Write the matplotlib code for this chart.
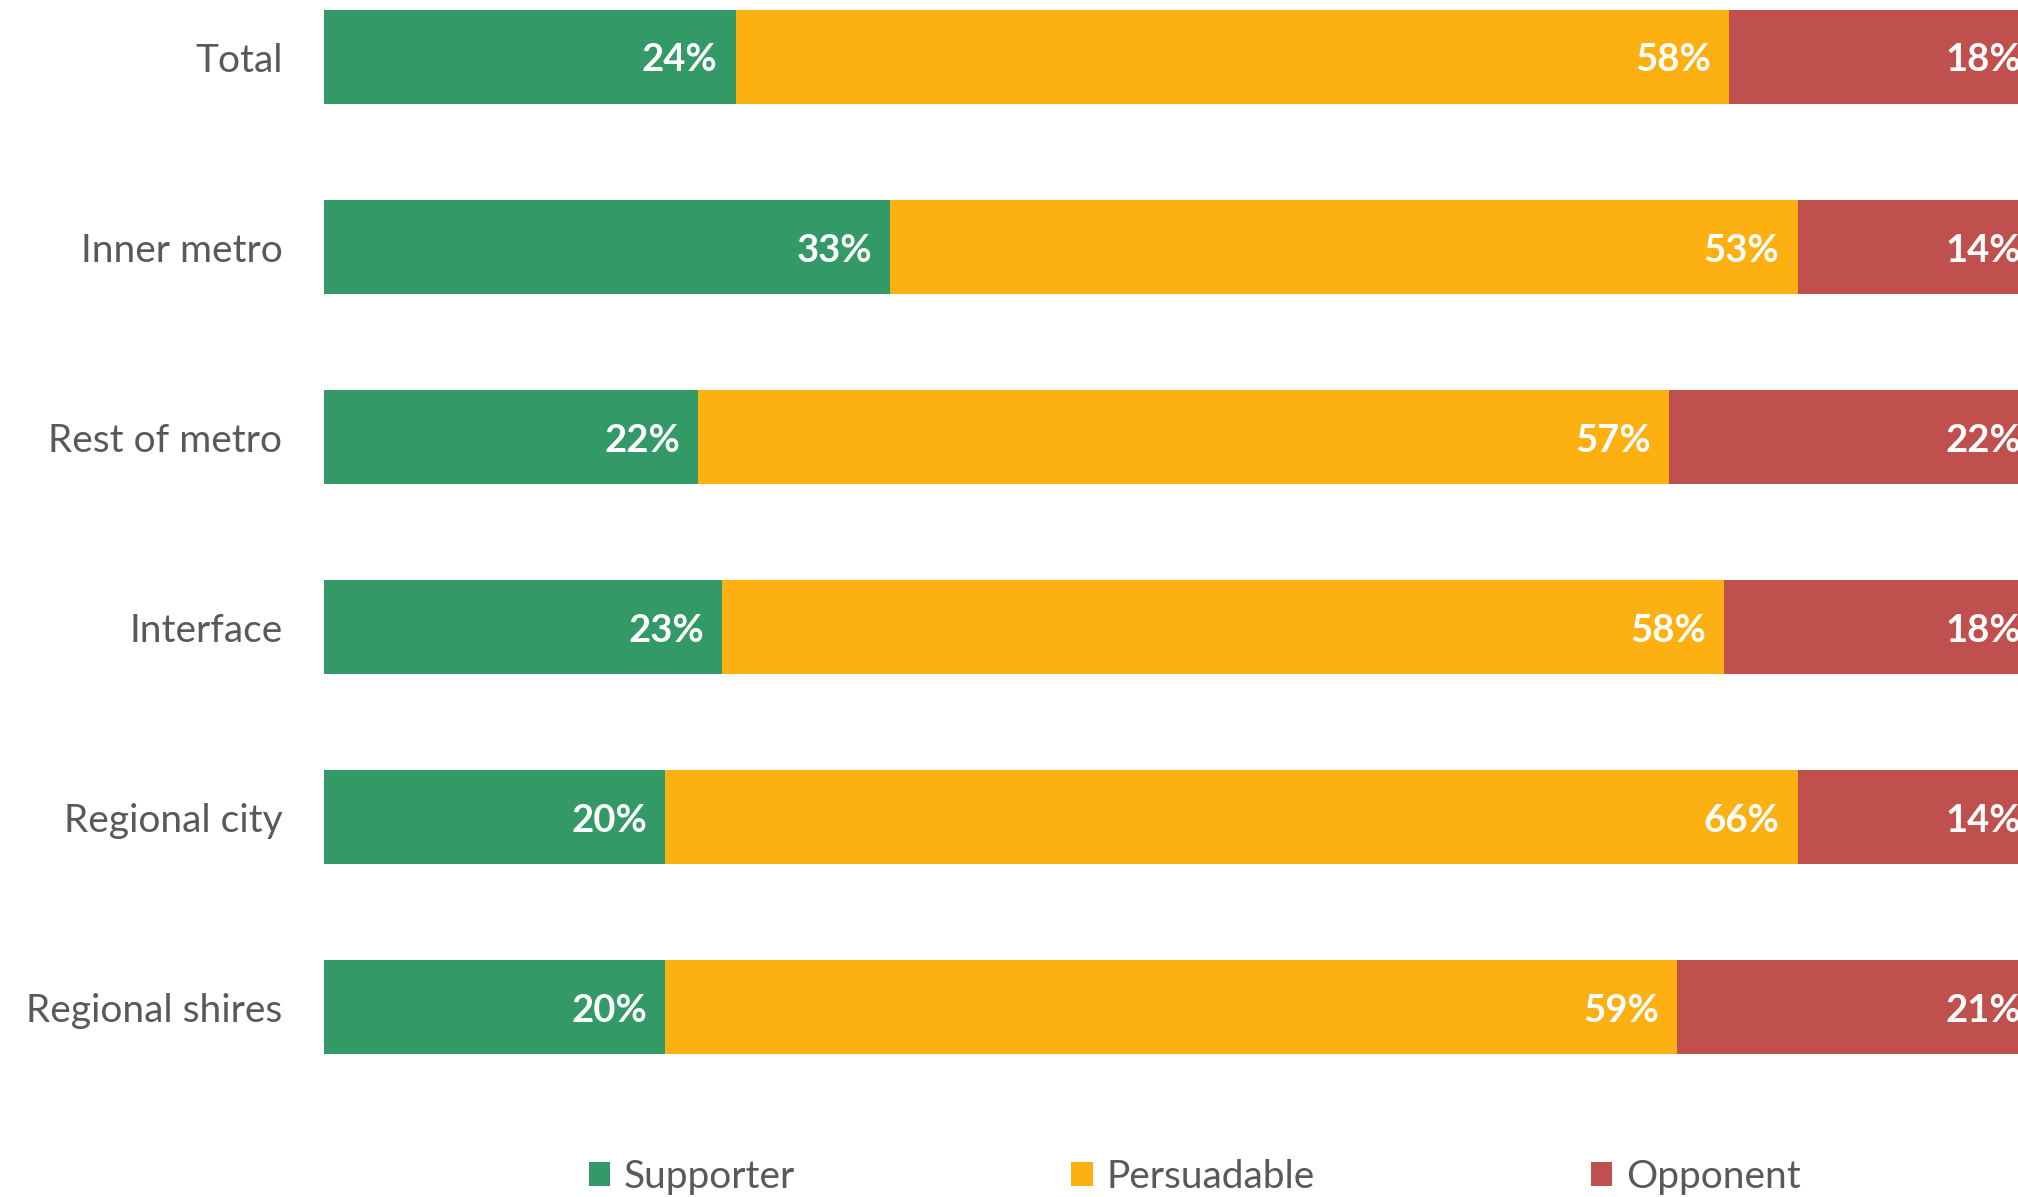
import matplotlib.pyplot as plt
import numpy as np

categories = ["Total", "Inner metro", "Rest of metro", "Interface", "Regional city", "Regional shires"]
series = ["Supporter", "Persuadable", "Opponent"]
supporter = [24.0, 33.0, 21.8, 23.2, 19.9, 19.9]
persuadable = [57.9, 52.9, 56.6, 58.4, 66.0, 59.0]
opponent = [18.1, 14.1, 21.6, 18.4, 14.1, 21.1]
colors = ["#339966", "#FDB012", "#C0504D"]

plt.rcParams['font.family'] = ['Lato', 'DejaVu Sans']

fig = plt.figure(figsize=(20.18, 11.97), dpi=100)
ax = fig.add_axes([0.1606, 0.081, 0.850, 0.919])

y = np.arange(len(categories))
left = np.zeros(len(categories))
for name, vals, c in zip(series, [supporter, persuadable, opponent], colors):
    vals = np.array(vals)
    ax.barh(y, vals, left=left, height=0.495, color=c, label=name)
    for yi, l, v in zip(y, left, vals):
        ax.annotate(f"{round(v)}%", (l + v, yi), xytext=(-13, -2.5), textcoords='offset points',
                    ha='right', va='center', color='white', fontsize=27.5, fontweight='bold')
    left = left + vals

ax.set_xlim(0, 100)
ax.set_ylim(5.489, -0.3)
ax.set_yticks(y)
ax.set_yticklabels(categories, fontsize=28, color='#595959')
ax.tick_params(axis='y', length=0, pad=30)
ax.set_xticks([])
for s in ax.spines.values():
    s.set_visible(False)

fig.legend(loc='center', bbox_to_anchor=(0.592, 0.017), ncol=3, frameon=False,
           fontsize=28, labelcolor='#595959', handlelength=0.55, handleheight=0.6,
           handletextpad=0.35, columnspacing=7.1)

fig.savefig("out.png", dpi=100)
